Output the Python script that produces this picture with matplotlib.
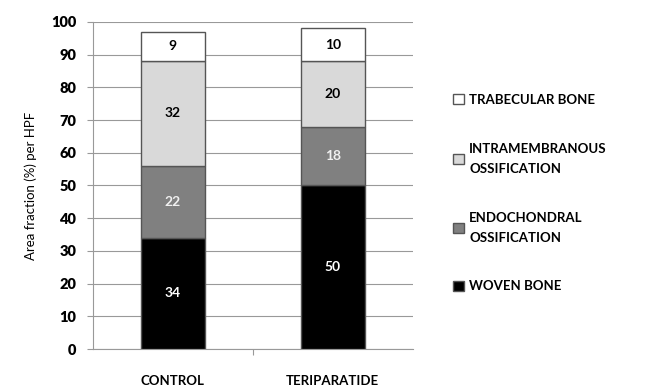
import matplotlib.pyplot as plt
from matplotlib.patches import Patch

groups = ['CONTROL', 'TERIPARATIDE']
woven = [34, 50]
endochondral = [22, 18]
intramembranous = [32, 20]
trabecular = [9, 10]

series = [
    ('WOVEN BONE', woven, '#000000', 'white'),
    ('ENDOCHONDRAL\nOSSIFICATION', endochondral, '#808080', '#f0f0f0'),
    ('INTRAMEMBRANOUS\nOSSIFICATION', intramembranous, '#d9d9d9', 'black'),
    ('TRABECULAR BONE', trabecular, '#ffffff', 'black'),
]

plt.rcParams['font.family'] = ['Lato', 'DejaVu Sans']

fig = plt.figure(figsize=(6.49, 3.9), dpi=100)
ax = fig.add_axes([0.143, 0.105, 0.493, 0.839])

x = [0, 1]
bottom = [0, 0]
handles = []
for name, vals, color, tcolor in series:
    bars = ax.bar(x, vals, width=0.4, bottom=bottom, color=color,
                  edgecolor='#555555', linewidth=1, zorder=3)
    for b, v, b0 in zip(bars, vals, bottom):
        ax.text(b.get_x() + b.get_width() / 2, b0 + v / 2, str(v),
                ha='center', va='center', color=tcolor, fontsize=10,
                fontweight='bold', zorder=4)
    bottom = [a + v for a, v in zip(bottom, vals)]
    handles.append(Patch(facecolor=color, edgecolor='#555555', label=name))

ax.set_xlim(-0.5, 1.5)
ax.set_ylim(0, 100)
ax.set_yticks(range(0, 101, 10))
ax.yaxis.grid(True, color='#999999', linewidth=0.8, zorder=0)
ax.set_xticks([0.5])
ax.set_xticklabels([''])
ax.tick_params(axis='x', length=4, color='#999999')
ax.tick_params(axis='y', length=4, color='#999999', labelsize=10.5, pad=8)
for lab in ax.get_yticklabels():
    lab.set_fontweight('heavy')
for i, g in enumerate(groups):
    ax.text(i, -8, g, ha='center', va='top', fontsize=9.5, fontweight='bold',
            transform=ax.transData)
for s in ['top', 'right']:
    ax.spines[s].set_visible(False)
for s in ['left', 'bottom']:
    ax.spines[s].set_color('#999999')
ax.set_ylabel('Area fraction (%) per HPF', fontsize=9.5, labelpad=10)

leg = fig.legend(handles[::-1], [h.get_label() for h in handles[::-1]],
                 loc='center left', bbox_to_anchor=(0.68, 0.505),
                 frameon=False, handlelength=0.8, handleheight=0.8,
                 handletextpad=0.4, labelspacing=2.8,
                 prop={'weight': 'bold', 'size': 9.5})
for t in leg.get_texts():
    t.set_linespacing(1.8)

fig.savefig('out.png', dpi=100)
